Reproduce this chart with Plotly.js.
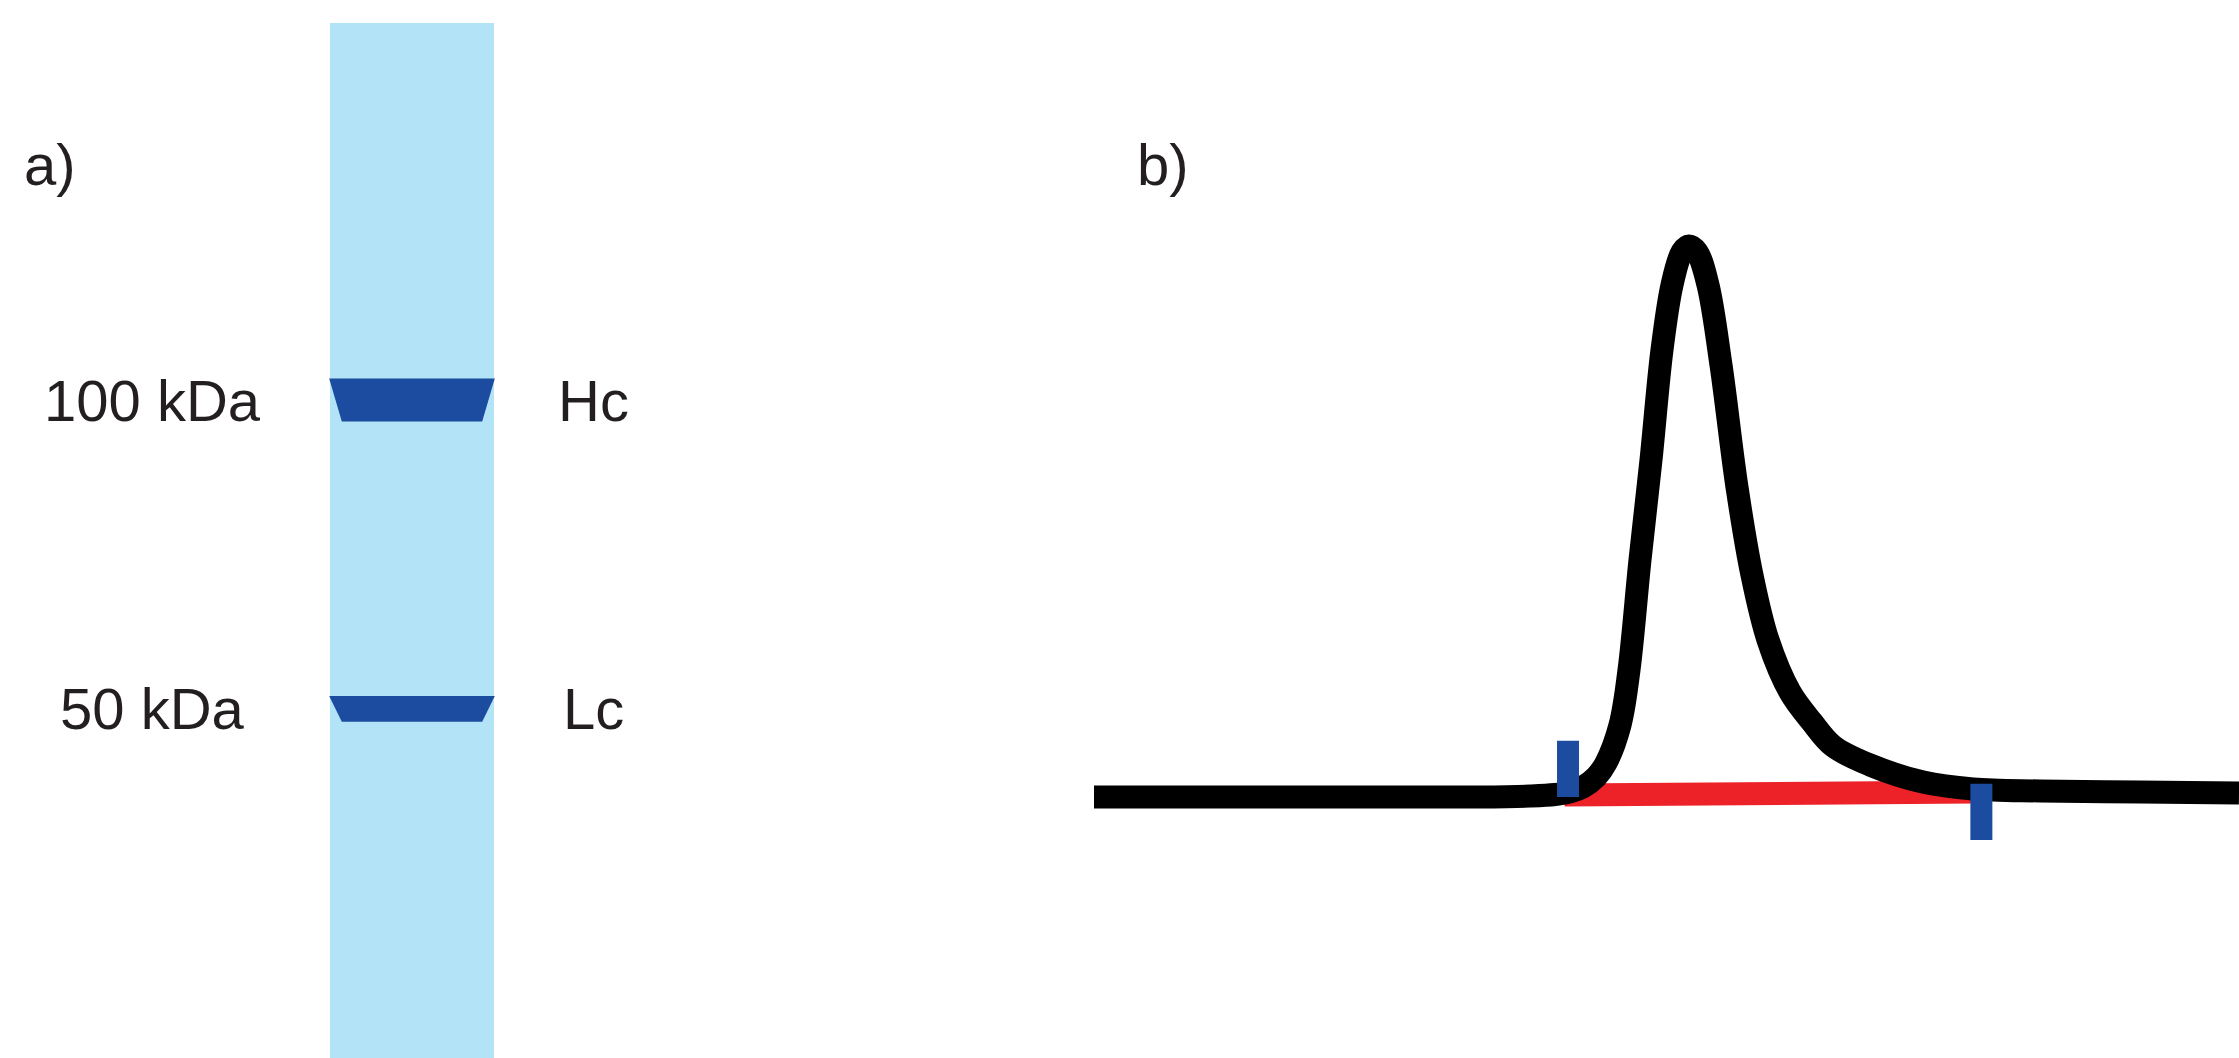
<!DOCTYPE html>
<html>
<head>
<meta charset="utf-8">
<script src="https://cdn.plot.ly/plotly-3.0.1.min.js"></script>
<style>
  html, body { margin: 0; padding: 0; background: #ffffff; }
  #chart { width: 2239px; height: 1058px; }
</style>
</head>
<body>
<div id="chart"></div>
<script>
// ---------------- DATA ----------------
// Panel a) : SDS-PAGE lane
const bandLabels = ['Hc', 'Lc'];
const bandMW = [100, 50];              // kDa
const mwLabels = ['100 kDa', '50 kDa'];
const bandIntensity = [1.0, 0.6];      // relative band amount

// Panel b) : chromatogram (time in min, signal in relative units)
const timeMin = [0, 3.598, 6.742, 7.616, 8.052, 8.314, 8.541, 8.769, 8.943, 9.188,
                 9.345, 9.537, 9.729, 9.921, 10.096, 10.271, 10.393, 10.533, 10.725, 10.952,
                 11.231, 11.493, 11.773, 12.157, 12.541, 12.908, 13.555, 14.480, 15.354, 16.524,
                 18.271, 20.0];
const signal = [0, 0, 0, 0.181, 0.454, 0.907, 1.815, 3.630, 6.171, 13.067,
                23.049, 43.013, 61.162, 81.125, 92.922, 98.911, 100, 98.911, 92.922, 78.403,
                56.261, 40.290, 28.494, 19.056, 13.612, 9.256, 5.808, 2.722, 1.452, 1.089,
                0.907, 0.726];

// integration baseline (start / end) and integration limit markers
const baselineTime = [8.22, 15.39];
const baselineSignal = [0.36, 0.91];
const limitTime = [8.28, 15.50];
const limitLow = [0, -7.8];
const limitHigh = [10.2, 2.4];

// ---------------- STYLE ----------------
const TEXT = '#231f20';
const LANE = '#b3e3f7';
const BAND = '#1b4ca0';
const RED = '#ed2229';
const FONT = 'Liberation Sans, Arial, Helvetica, sans-serif';
const FS = 58;

const laneCenter = 1;         // lane x position (lane units)
const bandInset = 0.072;      // narrowing at the bottom of each band
const bandScale = 0.042;      // log10 decades per unit intensity

const traces = [];

// bands as trapezoids
bandMW.forEach((mw, i) => {
  const lg = Math.log10(mw);
  const h = bandIntensity[i] * bandScale / 2;
  const top = Math.pow(10, lg + h), bot = Math.pow(10, lg - h);
  traces.push({
    type: 'scatter', mode: 'lines', xaxis: 'x', yaxis: 'y',
    x: [laneCenter - 0.505, laneCenter + 0.505, laneCenter + 0.5 - bandInset, laneCenter - 0.5 + bandInset, laneCenter - 0.505],
    y: [top, top, bot, bot, top],
    fill: 'toself', fillcolor: BAND, line: {width: 0, color: BAND},
    hoverinfo: 'skip', showlegend: false
  });
});

// red integration baseline
traces.push({
  type: 'scatter', mode: 'lines', xaxis: 'x2', yaxis: 'y2',
  x: baselineTime, y: baselineSignal,
  line: {color: RED, width: 23}, hoverinfo: 'skip', showlegend: false
});

// chromatogram
traces.push({
  type: 'scatter', mode: 'lines', xaxis: 'x2', yaxis: 'y2',
  x: timeMin, y: signal,
  line: {color: '#000000', width: 23, shape: 'spline', smoothing: 1},
  hoverinfo: 'skip', showlegend: false
});

// integration limit markers
limitTime.forEach((t, i) => {
  traces.push({
    type: 'scatter', mode: 'lines', xaxis: 'x2', yaxis: 'y2',
    x: [t, t], y: [limitLow[i], limitHigh[i]],
    line: {color: BAND, width: 22}, hoverinfo: 'skip', showlegend: false
  });
});

const W = 2239, H = 1058;
const splitPx = 1094;
const laneUnitPx = 164;
const laneCenterPx = 412;
const xMin = laneCenter - laneCenterPx / laneUnitPx;
const xMax = xMin + splitPx / laneUnitPx;

const annotations = [];
mwLabels.forEach((t, i) => {
  annotations.push({
    text: t, xref: 'x', yref: 'y', x: laneCenter + (152 - laneCenterPx) / laneUnitPx,
    y: Math.log10(bandMW[i]), xanchor: 'center', yanchor: 'middle', showarrow: false,
    font: {family: FONT, size: FS, color: TEXT}
  });
});
bandLabels.forEach((t, i) => {
  annotations.push({
    text: t, xref: 'x', yref: 'y', x: laneCenter + (593 - laneCenterPx) / laneUnitPx,
    y: Math.log10(bandMW[i]), xanchor: 'center', yanchor: 'middle', showarrow: false,
    font: {family: FONT, size: FS, color: TEXT}
  });
});
annotations.push({
  text: 'a)', xref: 'paper', yref: 'paper', x: 22 / W, y: 1 - 164 / H,
  xanchor: 'left', yanchor: 'middle', showarrow: false,
  font: {family: FONT, size: FS, color: TEXT}
});
annotations.push({
  text: 'b)', xref: 'paper', yref: 'paper', x: 1135 / W, y: 1 - 164 / H,
  xanchor: 'left', yanchor: 'middle', showarrow: false,
  font: {family: FONT, size: FS, color: TEXT}
});

const layout = {
  width: W, height: H,
  margin: {l: 0, r: 0, t: 0, b: 0, pad: 0},
  paper_bgcolor: '#ffffff', plot_bgcolor: 'rgba(0,0,0,0)',
  showlegend: false, hovermode: false,
  xaxis: {domain: [0, splitPx / W], range: [xMin, xMax], visible: false, fixedrange: true},
  yaxis: {domain: [0, 1], type: 'log', range: [1.3587, 2.3899], visible: false, fixedrange: true},
  xaxis2: {domain: [splitPx / W, 1], range: [0, 20], visible: false, anchor: 'y2', fixedrange: true},
  yaxis2: {domain: [0, 1], range: [-47.37, 144.65], visible: false, anchor: 'x2', fixedrange: true},
  shapes: [{
    type: 'rect', xref: 'x', yref: 'paper', layer: 'below',
    x0: laneCenter - 0.5, x1: laneCenter + 0.5, y0: 0, y1: 1 - 23 / H,
    fillcolor: LANE, line: {width: 0}
  }],
  annotations: annotations
};

Plotly.newPlot('chart', traces, layout, {staticPlot: true, displayModeBar: false});
</script>
</body>
</html>
